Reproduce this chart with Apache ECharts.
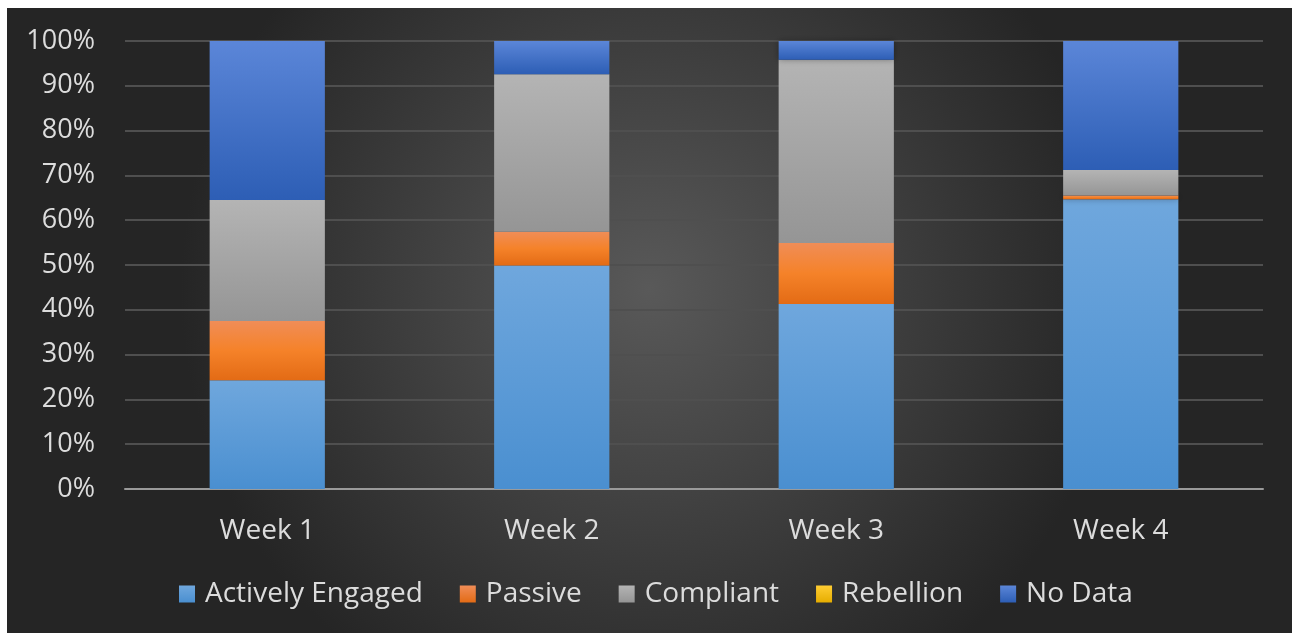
<!DOCTYPE html>
<html>
<head>
<meta charset="utf-8">
<script src="https://cdn.jsdelivr.net/npm/echarts@6/dist/echarts.min.js"></script>
<style>
html,body{margin:0;padding:0;background:#ffffff;width:1292px;height:633px;overflow:hidden;}
#chart{position:absolute;left:7px;top:8px;width:1285px;height:625px;}
</style>
</head>
<body>
<div id="chart"></div>
<script>
var categories = ['Week 1', 'Week 2', 'Week 3', 'Week 4'];
var seriesNames = ['Actively Engaged', 'Passive', 'Compliant', 'Rebellion', 'No Data'];
var activelyEngaged = [24.3, 49.9, 41.3, 64.7];
var passive = [13.2, 7.5, 13.6, 0.8];
var compliant = [27.0, 35.2, 40.9, 5.7];
var rebellion = [0, 0, 0, 0];
var noData = [35.5, 7.4, 4.2, 28.8];
var yTicks = [0, 10, 20, 30, 40, 50, 60, 70, 80, 90, 100];

function grad(top, bottom) {
  return new echarts.graphic.LinearGradient(0, 0, 0, 1, [
    {offset: 0, color: top}, {offset: 1, color: bottom}
  ]);
}
function grad3(top, mid, bottom) {
  return new echarts.graphic.LinearGradient(0, 0, 0, 1, [
    {offset: 0, color: top}, {offset: 0.5, color: mid}, {offset: 1, color: bottom}
  ]);
}
var fills = [
  grad('#6fa7dd', '#4a8fd0'),
  grad3('#f08d57', '#f58229', '#e36b15'),
  grad('#b4b4b4', '#959595'),
  grad('#ffcd33', '#e6ad00'),
  grad('#5b86d8', '#2d5eb5')
];
var legendColors = [grad('#6fa7dd', '#4a8fd0'), grad('#f08d57', '#e36b15'), grad('#b4b4b4', '#959595'), grad('#ffcd33', '#e6ad00'), grad('#5b86d8', '#2d5eb5')];
var dataSets = [activelyEngaged, passive, compliant, rebellion, noData];

var chart = echarts.init(document.getElementById('chart'), null, {renderer: 'canvas'});
var series = seriesNames.map(function (name, i) {
  return {
    name: name,
    type: 'bar',
    stack: 'total',
    barWidth: '40.5%',
    data: dataSets[i],
    itemStyle: {
      color: fills[i],
      shadowBlur: 6,
      shadowColor: 'rgba(0,0,0,0.35)'
    }
  };
});

chart.setOption({
  backgroundColor: new echarts.graphic.RadialGradient(0.5, 0.45, 0.75, [
    {offset: 0, color: '#595959'},
    {offset: 1, color: '#252525'}
  ]),
  textStyle: {fontFamily: 'Open Sans'},
  grid: {left: 118, right: 29, top: 33, bottom: 144},
  legend: {
    data: seriesNames.map(function (n, i) {
      return {name: n, itemStyle: {color: legendColors[i]}};
    }),
    left: 167,
    top: 567,
    icon: 'rect',
    itemWidth: 16,
    itemHeight: 17,
    itemGap: 37,
    textStyle: {color: '#dcdcdc', fontSize: 28, fontFamily: 'Open Sans', padding: [0, 0, 0, 5]}
  },
  xAxis: {
    type: 'category',
    data: categories,
    axisLine: {lineStyle: {color: '#9a9a9a', width: 2}},
    axisTick: {show: false},
    axisLabel: {color: '#dcdcdc', fontSize: 28, fontFamily: 'Open Sans', margin: 28}
  },
  yAxis: {
    type: 'value',
    min: 0,
    max: 100,
    interval: 10,
    axisLine: {show: false},
    axisTick: {show: false},
    splitLine: {lineStyle: {color: '#4f4f4f', width: 2}},
    axisLabel: {
      color: '#dcdcdc', fontSize: 27, fontFamily: 'Open Sans', margin: 30,
      formatter: function (v) { return yTicks.indexOf(v) >= 0 ? v + '%' : ''; }
    }
  },
  series: series
});
</script>
</body>
</html>
